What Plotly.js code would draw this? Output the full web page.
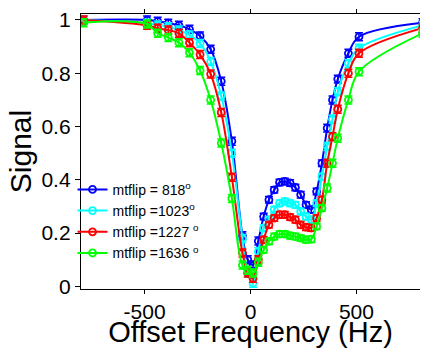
<!DOCTYPE html>
<html>
<head>
<meta charset="utf-8">
<script src="https://cdn.plot.ly/plotly-3.0.1.min.js"></script>
<style>html,body{margin:0;padding:0;background:#fff;}#chart{width:424px;height:348px;}</style>
</head>
<body>
<div id="chart"></div>
<script>
// Offset frequencies (Hz) as plotted
var offsetHz = [-788, -488, -438, -388, -338, -288, -238, -188, -138, -88, -38, -13, 12, 37, 62, 87, 112, 137, 162, 187, 212, 237, 262, 287, 312, 337, 362, 387, 412, 462, 512, 812];

var signal818  = [1.0, 1.0, 0.995, 0.988, 0.98, 0.965, 0.94, 0.89, 0.77, 0.545, 0.19, 0.10, 0.08, 0.17, 0.262, 0.325, 0.362, 0.39, 0.394, 0.388, 0.371, 0.344, 0.306, 0.288, 0.356, 0.462, 0.594, 0.70, 0.778, 0.875, 0.937, 0.99];
var signal1023 = [1.0, 0.988, 0.981, 0.975, 0.962, 0.944, 0.912, 0.844, 0.715, 0.50, 0.18, 0.05, 0.012, 0.13, 0.219, 0.25, 0.288, 0.312, 0.319, 0.312, 0.306, 0.281, 0.262, 0.25, 0.312, 0.412, 0.525, 0.627, 0.731, 0.837, 0.894, 0.98];
var signal1227 = [1.0, 0.98, 0.969, 0.962, 0.95, 0.915, 0.87, 0.797, 0.653, 0.41, 0.125, 0.05, 0.03, 0.10, 0.175, 0.231, 0.256, 0.269, 0.269, 0.26, 0.25, 0.231, 0.222, 0.219, 0.256, 0.325, 0.462, 0.562, 0.665, 0.80, 0.875, 0.97];
var signal1636 = [0.99, 0.985, 0.95, 0.934, 0.915, 0.877, 0.81, 0.70, 0.538, 0.33, 0.08, 0.06, 0.05, 0.09, 0.137, 0.169, 0.187, 0.196, 0.196, 0.19, 0.187, 0.181, 0.175, 0.177, 0.225, 0.294, 0.369, 0.462, 0.556, 0.70, 0.806, 0.95];

var errSignal = [0.015, 0.015, 0.015, 0.015, 0.015, 0.015, 0.015, 0.015, 0.015, 0.015, 0.015, 0.015, 0.015, 0.015, 0.012, 0.012, 0.012, 0.012, 0.012, 0.012, 0.012, 0.012, 0.012, 0.012, 0.012, 0.012, 0.015, 0.015, 0.015, 0.015, 0.015, 0.015];

var seriesNames = ['mtflip = 818<sup>o</sup>', 'mtflip =1023<sup>o</sup>', 'mtflip =1227 <sup>o</sup>', 'mtflip =1636 <sup>o</sup>'];
var seriesValues = [signal818, signal1023, signal1227, signal1636];
var seriesColors = ['#0000ff', '#00ffff', '#ff0000', '#00ff00'];

var yTickVals = [0, 0.2, 0.4, 0.6, 0.8, 1];
var yTickText = ['0', '0.2', '0.4', '0.6', '0.8', '1'];
var xTickVals = [-500, 0, 500];
var xTickText = ['-500', '0', '500'];

var traces = seriesValues.map(function (vals, i) {
  return {
    x: offsetHz,
    y: vals,
    name: seriesNames[i],
    type: 'scatter',
    mode: 'lines+markers',
    line: {color: seriesColors[i], width: 2, shape: 'spline', smoothing: 1},
    marker: {symbol: 'circle-open', size: 7, color: seriesColors[i], line: {width: 1.8, color: seriesColors[i]}},
    error_y: {type: 'data', array: errSignal, visible: true, color: seriesColors[i], thickness: 1.5, width: 4}
  };
});

var font = 'Arial, "Liberation Sans", sans-serif';
var layout = {
  width: 424,
  height: 348,
  margin: {l: 81, r: 4, t: 14, b: 59},
  paper_bgcolor: '#ffffff',
  plot_bgcolor: '#ffffff',
  font: {family: font, color: '#000000'},
  showlegend: true,
  legend: {
    x: -0.025, y: 0.419, xanchor: 'left', yanchor: 'top',
    bgcolor: 'rgba(255,255,255,0)',
    font: {family: font, size: 14, color: '#000000'},
    tracegroupgap: 0,
    itemwidth: 30
  },
  xaxis: {
    range: [-800, 800],
    tickvals: xTickVals,
    ticktext: xTickText,
    tickfont: {family: font, size: 21, color: '#000'},
    ticks: 'outside', ticklen: 4, tickcolor: '#000', tickwidth: 1,
    ticklabelstandoff: 0,
    showline: true, linecolor: '#000', linewidth: 1.2,
    mirror: 'ticks',
    showgrid: false, zeroline: false,
    title: {text: 'Offset Frequency (Hz)', font: {family: font, size: 29, color: '#000'}, standoff: 3}
  },
  yaxis: {
    range: [-0.01, 1.0225],
    tickvals: yTickVals,
    ticktext: yTickText,
    tickfont: {family: font, size: 21, color: '#000'},
    ticks: 'outside', ticklen: 5, tickcolor: '#000', tickwidth: 1,
    showline: true, linecolor: '#000', linewidth: 1.2,
    mirror: false,
    showgrid: false, zeroline: false,
    title: {text: 'Signal', font: {family: font, size: 30, color: '#000'}, standoff: 0}
  }
};

Plotly.newPlot('chart', traces, layout, {displayModeBar: false, staticPlot: true});
</script>
</body>
</html>
